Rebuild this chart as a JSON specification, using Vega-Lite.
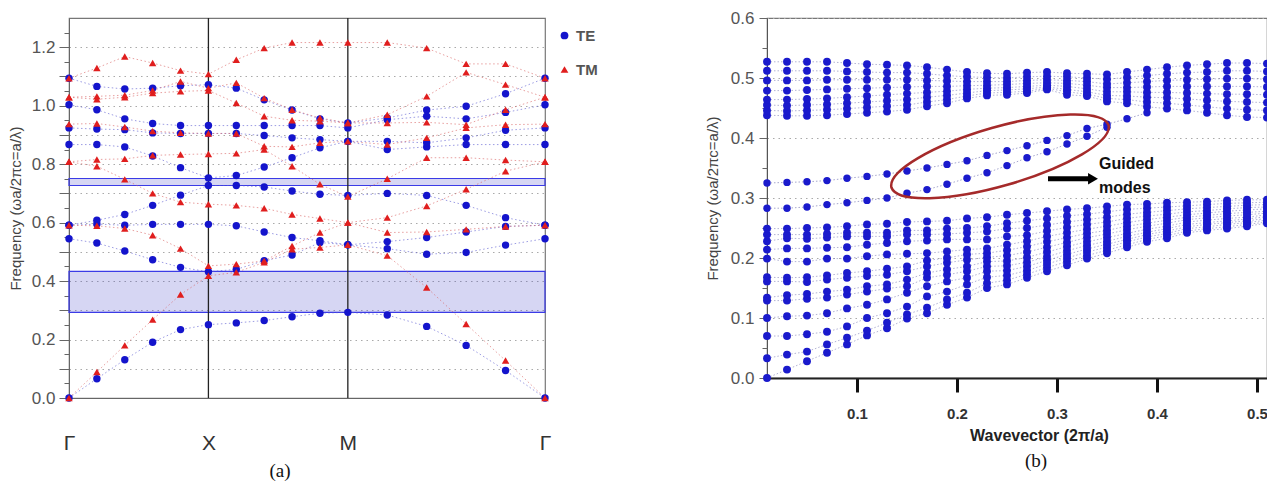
{
"$schema":"https://vega.github.io/schema/vega-lite/v6.json",
"background":"white",
"padding":{"left":7,"top":8,"right":0,"bottom":0},
"bounds":"flush",
"spacing":222,
"config":{"font":"Liberation Sans","view":{"stroke":"#777","strokeWidth":1.2}},
"datasets":{
"a":[
{"k":0,"f":0,"p":"TE"},{"k":0,"f":0.545,"p":"TE"},{"k":0,"f":0.591,"p":"TE"},{"k":0,"f":0.591,"p":"TE"},{"k":0,"f":0.867,"p":"TE"},{"k":0,"f":0.924,"p":"TE"},{"k":0,"f":1.003,"p":"TE"},{"k":0,"f":1.094,"p":"TE"},
{"k":0.1,"f":0.066,"p":"TE"},{"k":0.1,"f":0.53,"p":"TE"},{"k":0.1,"f":0.595,"p":"TE"},{"k":0.1,"f":0.608,"p":"TE"},{"k":0.1,"f":0.867,"p":"TE"},{"k":0.1,"f":0.92,"p":"TE"},{"k":0.1,"f":0.986,"p":"TE"},{"k":0.1,"f":1.066,"p":"TE"},
{"k":0.2,"f":0.131,"p":"TE"},{"k":0.2,"f":0.503,"p":"TE"},{"k":0.2,"f":0.591,"p":"TE"},{"k":0.2,"f":0.628,"p":"TE"},{"k":0.2,"f":0.859,"p":"TE"},{"k":0.2,"f":0.918,"p":"TE"},{"k":0.2,"f":0.955,"p":"TE"},{"k":0.2,"f":1.057,"p":"TE"},
{"k":0.3,"f":0.191,"p":"TE"},{"k":0.3,"f":0.473,"p":"TE"},{"k":0.3,"f":0.594,"p":"TE"},{"k":0.3,"f":0.659,"p":"TE"},{"k":0.3,"f":0.828,"p":"TE"},{"k":0.3,"f":0.907,"p":"TE"},{"k":0.3,"f":0.939,"p":"TE"},{"k":0.3,"f":1.06,"p":"TE"},
{"k":0.4,"f":0.234,"p":"TE"},{"k":0.4,"f":0.447,"p":"TE"},{"k":0.4,"f":0.594,"p":"TE"},{"k":0.4,"f":0.694,"p":"TE"},{"k":0.4,"f":0.788,"p":"TE"},{"k":0.4,"f":0.905,"p":"TE"},{"k":0.4,"f":0.932,"p":"TE"},{"k":0.4,"f":1.068,"p":"TE"},
{"k":0.5,"f":0.251,"p":"TE"},{"k":0.5,"f":0.432,"p":"TE"},{"k":0.5,"f":0.594,"p":"TE"},{"k":0.5,"f":0.727,"p":"TE"},{"k":0.5,"f":0.753,"p":"TE"},{"k":0.5,"f":0.905,"p":"TE"},{"k":0.5,"f":0.932,"p":"TE"},{"k":0.5,"f":1.072,"p":"TE"},
{"k":0.6,"f":0.257,"p":"TE"},{"k":0.6,"f":0.44,"p":"TE"},{"k":0.6,"f":0.589,"p":"TE"},{"k":0.6,"f":0.727,"p":"TE"},{"k":0.6,"f":0.761,"p":"TE"},{"k":0.6,"f":0.905,"p":"TE"},{"k":0.6,"f":0.932,"p":"TE"},{"k":0.6,"f":1.06,"p":"TE"},
{"k":0.7,"f":0.265,"p":"TE"},{"k":0.7,"f":0.47,"p":"TE"},{"k":0.7,"f":0.568,"p":"TE"},{"k":0.7,"f":0.722,"p":"TE"},{"k":0.7,"f":0.79,"p":"TE"},{"k":0.7,"f":0.898,"p":"TE"},{"k":0.7,"f":0.932,"p":"TE"},{"k":0.7,"f":1.02,"p":"TE"},
{"k":0.8,"f":0.278,"p":"TE"},{"k":0.8,"f":0.489,"p":"TE"},{"k":0.8,"f":0.549,"p":"TE"},{"k":0.8,"f":0.708,"p":"TE"},{"k":0.8,"f":0.822,"p":"TE"},{"k":0.8,"f":0.89,"p":"TE"},{"k":0.8,"f":0.932,"p":"TE"},{"k":0.8,"f":0.985,"p":"TE"},
{"k":0.9,"f":0.29,"p":"TE"},{"k":0.9,"f":0.532,"p":"TE"},{"k":0.9,"f":0.538,"p":"TE"},{"k":0.9,"f":0.697,"p":"TE"},{"k":0.9,"f":0.856,"p":"TE"},{"k":0.9,"f":0.884,"p":"TE"},{"k":0.9,"f":0.932,"p":"TE"},{"k":0.9,"f":0.955,"p":"TE"},
{"k":1,"f":0.293,"p":"TE"},{"k":1,"f":0.524,"p":"TE"},{"k":1,"f":0.524,"p":"TE"},{"k":1,"f":0.693,"p":"TE"},{"k":1,"f":0.878,"p":"TE"},{"k":1,"f":0.878,"p":"TE"},{"k":1,"f":0.924,"p":"TE"},{"k":1,"f":0.941,"p":"TE"},
{"k":1.1414,"f":0.284,"p":"TE"},{"k":1.1414,"f":0.511,"p":"TE"},{"k":1.1414,"f":0.535,"p":"TE"},{"k":1.1414,"f":0.7,"p":"TE"},{"k":1.1414,"f":0.85,"p":"TE"},{"k":1.1414,"f":0.878,"p":"TE"},{"k":1.1414,"f":0.952,"p":"TE"},{"k":1.1414,"f":0.958,"p":"TE"},
{"k":1.2828,"f":0.245,"p":"TE"},{"k":1.2828,"f":0.492,"p":"TE"},{"k":1.2828,"f":0.549,"p":"TE"},{"k":1.2828,"f":0.693,"p":"TE"},{"k":1.2828,"f":0.859,"p":"TE"},{"k":1.2828,"f":0.873,"p":"TE"},{"k":1.2828,"f":0.964,"p":"TE"},{"k":1.2828,"f":0.985,"p":"TE"},
{"k":1.4243,"f":0.18,"p":"TE"},{"k":1.4243,"f":0.498,"p":"TE"},{"k":1.4243,"f":0.568,"p":"TE"},{"k":1.4243,"f":0.659,"p":"TE"},{"k":1.4243,"f":0.867,"p":"TE"},{"k":1.4243,"f":0.89,"p":"TE"},{"k":1.4243,"f":0.955,"p":"TE"},{"k":1.4243,"f":0.998,"p":"TE"},
{"k":1.5657,"f":0.094,"p":"TE"},{"k":1.5657,"f":0.523,"p":"TE"},{"k":1.5657,"f":0.587,"p":"TE"},{"k":1.5657,"f":0.617,"p":"TE"},{"k":1.5657,"f":0.867,"p":"TE"},{"k":1.5657,"f":0.916,"p":"TE"},{"k":1.5657,"f":0.977,"p":"TE"},{"k":1.5657,"f":1.041,"p":"TE"},
{"k":1.7071,"f":0,"p":"TE"},{"k":1.7071,"f":0.545,"p":"TE"},{"k":1.7071,"f":0.591,"p":"TE"},{"k":1.7071,"f":0.591,"p":"TE"},{"k":1.7071,"f":0.867,"p":"TE"},{"k":1.7071,"f":0.924,"p":"TE"},{"k":1.7071,"f":1.003,"p":"TE"},{"k":1.7071,"f":1.094,"p":"TE"},
{"k":0,"f":0,"p":"TM"},{"k":0,"f":0.591,"p":"TM"},{"k":0,"f":0.808,"p":"TM"},{"k":0,"f":0.808,"p":"TM"},{"k":0,"f":0.937,"p":"TM"},{"k":0,"f":1.029,"p":"TM"},{"k":0,"f":1.029,"p":"TM"},{"k":0,"f":1.094,"p":"TM"},
{"k":0.1,"f":0.089,"p":"TM"},{"k":0.1,"f":0.589,"p":"TM"},{"k":0.1,"f":0.793,"p":"TM"},{"k":0.1,"f":0.816,"p":"TM"},{"k":0.1,"f":0.939,"p":"TM"},{"k":0.1,"f":1.022,"p":"TM"},{"k":0.1,"f":1.032,"p":"TM"},{"k":0.1,"f":1.129,"p":"TM"},
{"k":0.2,"f":0.18,"p":"TM"},{"k":0.2,"f":0.58,"p":"TM"},{"k":0.2,"f":0.748,"p":"TM"},{"k":0.2,"f":0.818,"p":"TM"},{"k":0.2,"f":0.927,"p":"TM"},{"k":0.2,"f":1.029,"p":"TM"},{"k":0.2,"f":1.036,"p":"TM"},{"k":0.2,"f":1.168,"p":"TM"},
{"k":0.3,"f":0.268,"p":"TM"},{"k":0.3,"f":0.557,"p":"TM"},{"k":0.3,"f":0.7,"p":"TM"},{"k":0.3,"f":0.83,"p":"TM"},{"k":0.3,"f":0.913,"p":"TM"},{"k":0.3,"f":1.043,"p":"TM"},{"k":0.3,"f":1.052,"p":"TM"},{"k":0.3,"f":1.146,"p":"TM"},
{"k":0.4,"f":0.354,"p":"TM"},{"k":0.4,"f":0.511,"p":"TM"},{"k":0.4,"f":0.67,"p":"TM"},{"k":0.4,"f":0.833,"p":"TM"},{"k":0.4,"f":0.907,"p":"TM"},{"k":0.4,"f":1.049,"p":"TM"},{"k":0.4,"f":1.083,"p":"TM"},{"k":0.4,"f":1.12,"p":"TM"},
{"k":0.5,"f":0.418,"p":"TM"},{"k":0.5,"f":0.452,"p":"TM"},{"k":0.5,"f":0.663,"p":"TM"},{"k":0.5,"f":0.835,"p":"TM"},{"k":0.5,"f":0.905,"p":"TM"},{"k":0.5,"f":1.052,"p":"TM"},{"k":0.5,"f":1.06,"p":"TM"},{"k":0.5,"f":1.108,"p":"TM"},
{"k":0.6,"f":0.43,"p":"TM"},{"k":0.6,"f":0.458,"p":"TM"},{"k":0.6,"f":0.659,"p":"TM"},{"k":0.6,"f":0.837,"p":"TM"},{"k":0.6,"f":0.905,"p":"TM"},{"k":0.6,"f":1.009,"p":"TM"},{"k":0.6,"f":1.078,"p":"TM"},{"k":0.6,"f":1.157,"p":"TM"},
{"k":0.7,"f":0.464,"p":"TM"},{"k":0.7,"f":0.469,"p":"TM"},{"k":0.7,"f":0.649,"p":"TM"},{"k":0.7,"f":0.85,"p":"TM"},{"k":0.7,"f":0.861,"p":"TM"},{"k":0.7,"f":0.964,"p":"TM"},{"k":0.7,"f":1.026,"p":"TM"},{"k":0.7,"f":1.197,"p":"TM"},
{"k":0.8,"f":0.509,"p":"TM"},{"k":0.8,"f":0.52,"p":"TM"},{"k":0.8,"f":0.628,"p":"TM"},{"k":0.8,"f":0.793,"p":"TM"},{"k":0.8,"f":0.859,"p":"TM"},{"k":0.8,"f":0.95,"p":"TM"},{"k":0.8,"f":0.986,"p":"TM"},{"k":0.8,"f":1.216,"p":"TM"},
{"k":0.9,"f":0.515,"p":"TM"},{"k":0.9,"f":0.566,"p":"TM"},{"k":0.9,"f":0.614,"p":"TM"},{"k":0.9,"f":0.731,"p":"TM"},{"k":0.9,"f":0.873,"p":"TM"},{"k":0.9,"f":0.947,"p":"TM"},{"k":0.9,"f":0.958,"p":"TM"},{"k":0.9,"f":1.216,"p":"TM"},
{"k":1,"f":0.524,"p":"TM"},{"k":1,"f":0.6,"p":"TM"},{"k":1,"f":0.6,"p":"TM"},{"k":1,"f":0.689,"p":"TM"},{"k":1,"f":0.878,"p":"TM"},{"k":1,"f":0.941,"p":"TM"},{"k":1,"f":0.941,"p":"TM"},{"k":1,"f":1.216,"p":"TM"},
{"k":1.1414,"f":0.487,"p":"TM"},{"k":1.1414,"f":0.566,"p":"TM"},{"k":1.1414,"f":0.617,"p":"TM"},{"k":1.1414,"f":0.75,"p":"TM"},{"k":1.1414,"f":0.867,"p":"TM"},{"k":1.1414,"f":0.941,"p":"TM"},{"k":1.1414,"f":0.969,"p":"TM"},{"k":1.1414,"f":1.216,"p":"TM"},
{"k":1.2828,"f":0.378,"p":"TM"},{"k":1.2828,"f":0.568,"p":"TM"},{"k":1.2828,"f":0.657,"p":"TM"},{"k":1.2828,"f":0.822,"p":"TM"},{"k":1.2828,"f":0.89,"p":"TM"},{"k":1.2828,"f":0.943,"p":"TM"},{"k":1.2828,"f":1.032,"p":"TM"},{"k":1.2828,"f":1.197,"p":"TM"},
{"k":1.4243,"f":0.253,"p":"TM"},{"k":1.4243,"f":0.577,"p":"TM"},{"k":1.4243,"f":0.714,"p":"TM"},{"k":1.4243,"f":0.822,"p":"TM"},{"k":1.4243,"f":0.924,"p":"TM"},{"k":1.4243,"f":0.935,"p":"TM"},{"k":1.4243,"f":1.114,"p":"TM"},{"k":1.4243,"f":1.143,"p":"TM"},
{"k":1.5657,"f":0.128,"p":"TM"},{"k":1.5657,"f":0.587,"p":"TM"},{"k":1.5657,"f":0.776,"p":"TM"},{"k":1.5657,"f":0.814,"p":"TM"},{"k":1.5657,"f":0.935,"p":"TM"},{"k":1.5657,"f":0.986,"p":"TM"},{"k":1.5657,"f":1.072,"p":"TM"},{"k":1.5657,"f":1.143,"p":"TM"},
{"k":1.7071,"f":0,"p":"TM"},{"k":1.7071,"f":0.591,"p":"TM"},{"k":1.7071,"f":0.808,"p":"TM"},{"k":1.7071,"f":0.808,"p":"TM"},{"k":1.7071,"f":0.937,"p":"TM"},{"k":1.7071,"f":1.029,"p":"TM"},{"k":1.7071,"f":1.029,"p":"TM"},{"k":1.7071,"f":1.094,"p":"TM"}
],
"r":[
{"k":0.01,"f":0},{"k":0.01,"f":0.033},{"k":0.01,"f":0.07},{"k":0.01,"f":0.1},{"k":0.01,"f":0.129},{"k":0.01,"f":0.134},{"k":0.01,"f":0.161},{"k":0.01,"f":0.168},{"k":0.01,"f":0.199},{"k":0.01,"f":0.214},{"k":0.01,"f":0.228},{"k":0.01,"f":0.239},{"k":0.01,"f":0.249},{"k":0.01,"f":0.438},{"k":0.01,"f":0.446},{"k":0.01,"f":0.455},{"k":0.01,"f":0.464},{"k":0.01,"f":0.479},{"k":0.01,"f":0.496},{"k":0.01,"f":0.512},{"k":0.01,"f":0.527},
{"k":0.03,"f":0.014},{"k":0.03,"f":0.039},{"k":0.03,"f":0.07},{"k":0.03,"f":0.103},{"k":0.03,"f":0.129},{"k":0.03,"f":0.138},{"k":0.03,"f":0.161},{"k":0.03,"f":0.167},{"k":0.03,"f":0.194},{"k":0.03,"f":0.216},{"k":0.03,"f":0.233},{"k":0.03,"f":0.239},{"k":0.03,"f":0.249},{"k":0.03,"f":0.437},{"k":0.03,"f":0.445},{"k":0.03,"f":0.454},{"k":0.03,"f":0.464},{"k":0.03,"f":0.479},{"k":0.03,"f":0.496},{"k":0.03,"f":0.512},{"k":0.03,"f":0.527},
{"k":0.05,"f":0.028},{"k":0.05,"f":0.044},{"k":0.05,"f":0.073},{"k":0.05,"f":0.104},{"k":0.05,"f":0.132},{"k":0.05,"f":0.14},{"k":0.05,"f":0.16},{"k":0.05,"f":0.168},{"k":0.05,"f":0.194},{"k":0.05,"f":0.216},{"k":0.05,"f":0.232},{"k":0.05,"f":0.239},{"k":0.05,"f":0.25},{"k":0.05,"f":0.437},{"k":0.05,"f":0.446},{"k":0.05,"f":0.455},{"k":0.05,"f":0.465},{"k":0.05,"f":0.48},{"k":0.05,"f":0.496},{"k":0.05,"f":0.512},{"k":0.05,"f":0.527},
{"k":0.07,"f":0.042},{"k":0.07,"f":0.056},{"k":0.07,"f":0.077},{"k":0.07,"f":0.108},{"k":0.07,"f":0.134},{"k":0.07,"f":0.144},{"k":0.07,"f":0.164},{"k":0.07,"f":0.171},{"k":0.07,"f":0.199},{"k":0.07,"f":0.217},{"k":0.07,"f":0.234},{"k":0.07,"f":0.24},{"k":0.07,"f":0.251},{"k":0.07,"f":0.438},{"k":0.07,"f":0.447},{"k":0.07,"f":0.456},{"k":0.07,"f":0.466},{"k":0.07,"f":0.481},{"k":0.07,"f":0.497},{"k":0.07,"f":0.512},{"k":0.07,"f":0.527},
{"k":0.09,"f":0.056},{"k":0.09,"f":0.067},{"k":0.09,"f":0.086},{"k":0.09,"f":0.116},{"k":0.09,"f":0.139},{"k":0.09,"f":0.147},{"k":0.09,"f":0.167},{"k":0.09,"f":0.175},{"k":0.09,"f":0.199},{"k":0.09,"f":0.218},{"k":0.09,"f":0.236},{"k":0.09,"f":0.242},{"k":0.09,"f":0.253},{"k":0.09,"f":0.44},{"k":0.09,"f":0.449},{"k":0.09,"f":0.458},{"k":0.09,"f":0.468},{"k":0.09,"f":0.482},{"k":0.09,"f":0.497},{"k":0.09,"f":0.511},{"k":0.09,"f":0.525},
{"k":0.11,"f":0.071},{"k":0.11,"f":0.079},{"k":0.11,"f":0.1},{"k":0.11,"f":0.122},{"k":0.11,"f":0.144},{"k":0.11,"f":0.153},{"k":0.11,"f":0.17},{"k":0.11,"f":0.178},{"k":0.11,"f":0.203},{"k":0.11,"f":0.222},{"k":0.11,"f":0.236},{"k":0.11,"f":0.242},{"k":0.11,"f":0.256},{"k":0.11,"f":0.442},{"k":0.11,"f":0.451},{"k":0.11,"f":0.46},{"k":0.11,"f":0.47},{"k":0.11,"f":0.483},{"k":0.11,"f":0.497},{"k":0.11,"f":0.51},{"k":0.11,"f":0.523},
{"k":0.13,"f":0.083},{"k":0.13,"f":0.092},{"k":0.13,"f":0.108},{"k":0.13,"f":0.131},{"k":0.13,"f":0.149},{"k":0.13,"f":0.156},{"k":0.13,"f":0.172},{"k":0.13,"f":0.182},{"k":0.13,"f":0.206},{"k":0.13,"f":0.225},{"k":0.13,"f":0.236},{"k":0.13,"f":0.242},{"k":0.13,"f":0.257},{"k":0.13,"f":0.444},{"k":0.13,"f":0.453},{"k":0.13,"f":0.462},{"k":0.13,"f":0.472},{"k":0.13,"f":0.484},{"k":0.13,"f":0.497},{"k":0.13,"f":0.509},{"k":0.13,"f":0.522},
{"k":0.15,"f":0.099},{"k":0.15,"f":0.106},{"k":0.15,"f":0.119},{"k":0.15,"f":0.142},{"k":0.15,"f":0.153},{"k":0.15,"f":0.164},{"k":0.15,"f":0.178},{"k":0.15,"f":0.186},{"k":0.15,"f":0.207},{"k":0.15,"f":0.228},{"k":0.15,"f":0.239},{"k":0.15,"f":0.246},{"k":0.15,"f":0.26},{"k":0.15,"f":0.447},{"k":0.15,"f":0.455},{"k":0.15,"f":0.464},{"k":0.15,"f":0.474},{"k":0.15,"f":0.485},{"k":0.15,"f":0.497},{"k":0.15,"f":0.509},{"k":0.15,"f":0.521},
{"k":0.17,"f":0.108},{"k":0.17,"f":0.117},{"k":0.17,"f":0.136},{"k":0.17,"f":0.153},{"k":0.17,"f":0.167},{"k":0.17,"f":0.175},{"k":0.17,"f":0.186},{"k":0.17,"f":0.196},{"k":0.17,"f":0.208},{"k":0.17,"f":0.229},{"k":0.17,"f":0.239},{"k":0.17,"f":0.246},{"k":0.17,"f":0.261},{"k":0.17,"f":0.453},{"k":0.17,"f":0.46},{"k":0.17,"f":0.468},{"k":0.17,"f":0.476},{"k":0.17,"f":0.486},{"k":0.17,"f":0.496},{"k":0.17,"f":0.507},{"k":0.17,"f":0.518},
{"k":0.19,"f":0.122},{"k":0.19,"f":0.131},{"k":0.19,"f":0.144},{"k":0.19,"f":0.161},{"k":0.19,"f":0.172},{"k":0.19,"f":0.181},{"k":0.19,"f":0.192},{"k":0.19,"f":0.2},{"k":0.19,"f":0.211},{"k":0.19,"f":0.231},{"k":0.19,"f":0.24},{"k":0.19,"f":0.249},{"k":0.19,"f":0.262},{"k":0.19,"f":0.458},{"k":0.19,"f":0.464},{"k":0.19,"f":0.471},{"k":0.19,"f":0.478},{"k":0.19,"f":0.486},{"k":0.19,"f":0.495},{"k":0.19,"f":0.504},{"k":0.19,"f":0.514},
{"k":0.21,"f":0.134},{"k":0.21,"f":0.142},{"k":0.21,"f":0.156},{"k":0.21,"f":0.167},{"k":0.21,"f":0.178},{"k":0.21,"f":0.186},{"k":0.21,"f":0.197},{"k":0.21,"f":0.206},{"k":0.21,"f":0.214},{"k":0.21,"f":0.231},{"k":0.21,"f":0.242},{"k":0.21,"f":0.25},{"k":0.21,"f":0.266},{"k":0.21,"f":0.466},{"k":0.21,"f":0.47},{"k":0.21,"f":0.475},{"k":0.21,"f":0.481},{"k":0.21,"f":0.487},{"k":0.21,"f":0.494},{"k":0.21,"f":0.502},{"k":0.21,"f":0.51},
{"k":0.23,"f":0.15},{"k":0.23,"f":0.158},{"k":0.23,"f":0.168},{"k":0.23,"f":0.178},{"k":0.23,"f":0.186},{"k":0.23,"f":0.194},{"k":0.23,"f":0.201},{"k":0.23,"f":0.208},{"k":0.23,"f":0.216},{"k":0.23,"f":0.231},{"k":0.23,"f":0.244},{"k":0.23,"f":0.253},{"k":0.23,"f":0.268},{"k":0.23,"f":0.471},{"k":0.23,"f":0.475},{"k":0.23,"f":0.479},{"k":0.23,"f":0.483},{"k":0.23,"f":0.488},{"k":0.23,"f":0.494},{"k":0.23,"f":0.501},{"k":0.23,"f":0.508},
{"k":0.25,"f":0.156},{"k":0.25,"f":0.163},{"k":0.25,"f":0.171},{"k":0.25,"f":0.179},{"k":0.25,"f":0.187},{"k":0.25,"f":0.195},{"k":0.25,"f":0.204},{"k":0.25,"f":0.213},{"k":0.25,"f":0.222},{"k":0.25,"f":0.236},{"k":0.25,"f":0.249},{"k":0.25,"f":0.258},{"k":0.25,"f":0.272},{"k":0.25,"f":0.472},{"k":0.25,"f":0.476},{"k":0.25,"f":0.48},{"k":0.25,"f":0.484},{"k":0.25,"f":0.489},{"k":0.25,"f":0.494},{"k":0.25,"f":0.5},{"k":0.25,"f":0.507},
{"k":0.27,"f":0.167},{"k":0.27,"f":0.173},{"k":0.27,"f":0.179},{"k":0.27,"f":0.186},{"k":0.27,"f":0.193},{"k":0.27,"f":0.201},{"k":0.27,"f":0.21},{"k":0.27,"f":0.219},{"k":0.27,"f":0.228},{"k":0.27,"f":0.238},{"k":0.27,"f":0.25},{"k":0.27,"f":0.262},{"k":0.27,"f":0.275},{"k":0.27,"f":0.475},{"k":0.27,"f":0.478},{"k":0.27,"f":0.482},{"k":0.27,"f":0.486},{"k":0.27,"f":0.491},{"k":0.27,"f":0.496},{"k":0.27,"f":0.502},{"k":0.27,"f":0.509},
{"k":0.29,"f":0.178},{"k":0.29,"f":0.184},{"k":0.29,"f":0.19},{"k":0.29,"f":0.196},{"k":0.29,"f":0.202},{"k":0.29,"f":0.21},{"k":0.29,"f":0.218},{"k":0.29,"f":0.227},{"k":0.29,"f":0.236},{"k":0.29,"f":0.245},{"k":0.29,"f":0.255},{"k":0.29,"f":0.266},{"k":0.29,"f":0.278},{"k":0.29,"f":0.481},{"k":0.29,"f":0.483},{"k":0.29,"f":0.485},{"k":0.29,"f":0.488},{"k":0.29,"f":0.492},{"k":0.29,"f":0.497},{"k":0.29,"f":0.503},{"k":0.29,"f":0.51},
{"k":0.31,"f":0.188},{"k":0.31,"f":0.194},{"k":0.31,"f":0.2},{"k":0.31,"f":0.206},{"k":0.31,"f":0.212},{"k":0.31,"f":0.219},{"k":0.31,"f":0.226},{"k":0.31,"f":0.234},{"k":0.31,"f":0.242},{"k":0.31,"f":0.251},{"k":0.31,"f":0.26},{"k":0.31,"f":0.27},{"k":0.31,"f":0.281},{"k":0.31,"f":0.472},{"k":0.31,"f":0.477},{"k":0.31,"f":0.481},{"k":0.31,"f":0.486},{"k":0.31,"f":0.491},{"k":0.31,"f":0.496},{"k":0.31,"f":0.502},{"k":0.31,"f":0.508},
{"k":0.33,"f":0.199},{"k":0.33,"f":0.204},{"k":0.33,"f":0.21},{"k":0.33,"f":0.215},{"k":0.33,"f":0.221},{"k":0.33,"f":0.227},{"k":0.33,"f":0.234},{"k":0.33,"f":0.241},{"k":0.33,"f":0.248},{"k":0.33,"f":0.256},{"k":0.33,"f":0.264},{"k":0.33,"f":0.273},{"k":0.33,"f":0.283},{"k":0.33,"f":0.47},{"k":0.33,"f":0.473},{"k":0.33,"f":0.477},{"k":0.33,"f":0.482},{"k":0.33,"f":0.488},{"k":0.33,"f":0.494},{"k":0.33,"f":0.5},{"k":0.33,"f":0.507},
{"k":0.35,"f":0.208},{"k":0.35,"f":0.213},{"k":0.35,"f":0.218},{"k":0.35,"f":0.223},{"k":0.35,"f":0.228},{"k":0.35,"f":0.234},{"k":0.35,"f":0.24},{"k":0.35,"f":0.246},{"k":0.35,"f":0.253},{"k":0.35,"f":0.26},{"k":0.35,"f":0.268},{"k":0.35,"f":0.277},{"k":0.35,"f":0.286},{"k":0.35,"f":0.461},{"k":0.35,"f":0.466},{"k":0.35,"f":0.471},{"k":0.35,"f":0.477},{"k":0.35,"f":0.484},{"k":0.35,"f":0.49},{"k":0.35,"f":0.498},{"k":0.35,"f":0.506},
{"k":0.37,"f":0.218},{"k":0.37,"f":0.222},{"k":0.37,"f":0.227},{"k":0.37,"f":0.231},{"k":0.37,"f":0.236},{"k":0.37,"f":0.241},{"k":0.37,"f":0.247},{"k":0.37,"f":0.253},{"k":0.37,"f":0.259},{"k":0.37,"f":0.266},{"k":0.37,"f":0.273},{"k":0.37,"f":0.281},{"k":0.37,"f":0.289},{"k":0.37,"f":0.458},{"k":0.37,"f":0.464},{"k":0.37,"f":0.47},{"k":0.37,"f":0.477},{"k":0.37,"f":0.484},{"k":0.37,"f":0.492},{"k":0.37,"f":0.501},{"k":0.37,"f":0.51},
{"k":0.39,"f":0.227},{"k":0.39,"f":0.231},{"k":0.39,"f":0.235},{"k":0.39,"f":0.239},{"k":0.39,"f":0.243},{"k":0.39,"f":0.248},{"k":0.39,"f":0.253},{"k":0.39,"f":0.258},{"k":0.39,"f":0.264},{"k":0.39,"f":0.27},{"k":0.39,"f":0.276},{"k":0.39,"f":0.283},{"k":0.39,"f":0.29},{"k":0.39,"f":0.452},{"k":0.39,"f":0.46},{"k":0.39,"f":0.468},{"k":0.39,"f":0.476},{"k":0.39,"f":0.485},{"k":0.39,"f":0.494},{"k":0.39,"f":0.504},{"k":0.39,"f":0.514},
{"k":0.41,"f":0.233},{"k":0.41,"f":0.237},{"k":0.41,"f":0.241},{"k":0.41,"f":0.245},{"k":0.41,"f":0.249},{"k":0.41,"f":0.253},{"k":0.41,"f":0.258},{"k":0.41,"f":0.263},{"k":0.41,"f":0.268},{"k":0.41,"f":0.273},{"k":0.41,"f":0.279},{"k":0.41,"f":0.285},{"k":0.41,"f":0.292},{"k":0.41,"f":0.449},{"k":0.41,"f":0.458},{"k":0.41,"f":0.467},{"k":0.41,"f":0.476},{"k":0.41,"f":0.486},{"k":0.41,"f":0.496},{"k":0.41,"f":0.507},{"k":0.41,"f":0.518},
{"k":0.43,"f":0.242},{"k":0.43,"f":0.245},{"k":0.43,"f":0.249},{"k":0.43,"f":0.252},{"k":0.43,"f":0.256},{"k":0.43,"f":0.26},{"k":0.43,"f":0.264},{"k":0.43,"f":0.268},{"k":0.43,"f":0.272},{"k":0.43,"f":0.277},{"k":0.43,"f":0.282},{"k":0.43,"f":0.287},{"k":0.43,"f":0.293},{"k":0.43,"f":0.446},{"k":0.43,"f":0.455},{"k":0.43,"f":0.465},{"k":0.43,"f":0.475},{"k":0.43,"f":0.486},{"k":0.43,"f":0.497},{"k":0.43,"f":0.509},{"k":0.43,"f":0.521},
{"k":0.45,"f":0.246},{"k":0.45,"f":0.249},{"k":0.45,"f":0.252},{"k":0.45,"f":0.256},{"k":0.45,"f":0.259},{"k":0.45,"f":0.263},{"k":0.45,"f":0.267},{"k":0.45,"f":0.271},{"k":0.45,"f":0.275},{"k":0.45,"f":0.279},{"k":0.45,"f":0.284},{"k":0.45,"f":0.289},{"k":0.45,"f":0.294},{"k":0.45,"f":0.442},{"k":0.45,"f":0.452},{"k":0.45,"f":0.463},{"k":0.45,"f":0.474},{"k":0.45,"f":0.486},{"k":0.45,"f":0.498},{"k":0.45,"f":0.51},{"k":0.45,"f":0.523},
{"k":0.47,"f":0.249},{"k":0.47,"f":0.252},{"k":0.47,"f":0.256},{"k":0.47,"f":0.259},{"k":0.47,"f":0.262},{"k":0.47,"f":0.266},{"k":0.47,"f":0.27},{"k":0.47,"f":0.274},{"k":0.47,"f":0.278},{"k":0.47,"f":0.282},{"k":0.47,"f":0.286},{"k":0.47,"f":0.291},{"k":0.47,"f":0.296},{"k":0.47,"f":0.438},{"k":0.47,"f":0.449},{"k":0.47,"f":0.461},{"k":0.47,"f":0.473},{"k":0.47,"f":0.486},{"k":0.47,"f":0.499},{"k":0.47,"f":0.512},{"k":0.47,"f":0.525},
{"k":0.49,"f":0.253},{"k":0.49,"f":0.256},{"k":0.49,"f":0.259},{"k":0.49,"f":0.262},{"k":0.49,"f":0.265},{"k":0.49,"f":0.268},{"k":0.49,"f":0.272},{"k":0.49,"f":0.276},{"k":0.49,"f":0.28},{"k":0.49,"f":0.284},{"k":0.49,"f":0.288},{"k":0.49,"f":0.292},{"k":0.49,"f":0.297},{"k":0.49,"f":0.435},{"k":0.49,"f":0.447},{"k":0.49,"f":0.46},{"k":0.49,"f":0.473},{"k":0.49,"f":0.486},{"k":0.49,"f":0.499},{"k":0.49,"f":0.512},{"k":0.49,"f":0.525},
{"k":0.51,"f":0.258},{"k":0.51,"f":0.26},{"k":0.51,"f":0.263},{"k":0.51,"f":0.266},{"k":0.51,"f":0.269},{"k":0.51,"f":0.272},{"k":0.51,"f":0.275},{"k":0.51,"f":0.278},{"k":0.51,"f":0.282},{"k":0.51,"f":0.285},{"k":0.51,"f":0.289},{"k":0.51,"f":0.293},{"k":0.51,"f":0.297},{"k":0.51,"f":0.434},{"k":0.51,"f":0.446},{"k":0.51,"f":0.459},{"k":0.51,"f":0.472},{"k":0.51,"f":0.485},{"k":0.51,"f":0.498},{"k":0.51,"f":0.511},{"k":0.51,"f":0.524}
],
"g":[
{"k":0.01,"f":0.283,"b":1},{"k":0.03,"f":0.283,"b":1},{"k":0.05,"f":0.285,"b":1},{"k":0.07,"f":0.289,"b":1},{"k":0.09,"f":0.292,"b":1},{"k":0.11,"f":0.296,"b":1},{"k":0.13,"f":0.3,"b":1},{"k":0.15,"f":0.308,"b":1},{"k":0.17,"f":0.314,"b":1},{"k":0.19,"f":0.323,"b":1},{"k":0.21,"f":0.333,"b":1},{"k":0.23,"f":0.342,"b":1},{"k":0.25,"f":0.354,"b":1},{"k":0.27,"f":0.367,"b":1},{"k":0.29,"f":0.377,"b":1},{"k":0.31,"f":0.39,"b":1},{"k":0.33,"f":0.403,"b":1},{"k":0.35,"f":0.418,"b":1},
{"k":0.01,"f":0.325,"b":2},{"k":0.03,"f":0.326,"b":2},{"k":0.05,"f":0.327,"b":2},{"k":0.07,"f":0.329,"b":2},{"k":0.09,"f":0.333,"b":2},{"k":0.11,"f":0.336,"b":2},{"k":0.13,"f":0.34,"b":2},{"k":0.15,"f":0.345,"b":2},{"k":0.17,"f":0.35,"b":2},{"k":0.19,"f":0.356,"b":2},{"k":0.21,"f":0.362,"b":2},{"k":0.23,"f":0.371,"b":2},{"k":0.25,"f":0.379,"b":2},{"k":0.27,"f":0.387,"b":2},{"k":0.29,"f":0.396,"b":2},{"k":0.31,"f":0.404,"b":2},{"k":0.33,"f":0.416,"b":2},{"k":0.35,"f":0.423,"b":2},{"k":0.37,"f":0.432,"b":2},{"k":0.39,"f":0.442,"b":2}
]
},
"hconcat":[
{
"width":476,"height":380,
"title":{"text":"(a)","orient":"bottom","font":"Liberation Serif","fontSize":19,"fontWeight":"normal","color":"#111","dx":-27,"offset":9},
"resolve":{"axis":{"y":"independent"}},
"layer":[
{"data":{"values":[{}]},"mark":{"type":"rect","fill":"#3434c4","fillOpacity":0.2,"stroke":"#3b3be6","strokeWidth":1.2},"encoding":{"y":{"datum":0.293,"type":"quantitative","scale":{"domain":[0,1.3],"nice":false},"axis":null},"y2":{"datum":0.433}}},
{"data":{"values":[{}]},"mark":{"type":"rect","fill":"#3434c4","fillOpacity":0.2,"stroke":"#3b3be6","strokeWidth":1.2},"encoding":{"y":{"datum":0.727,"type":"quantitative","axis":null},"y2":{"datum":0.751}}},
{"data":{"values":[{}]},"mark":{"type":"rule","color":"#222","strokeWidth":1.3},"encoding":{"x":{"datum":0.5,"type":"quantitative","scale":{"domain":[0,1.7071],"nice":false,"zero":false}}}},
{"data":{"values":[{}]},"mark":{"type":"rule","color":"#222","strokeWidth":1.3},"encoding":{"x":{"datum":1,"type":"quantitative"}}},
{"data":{"name":"a"},"transform":[{"filter":"datum.p=='TE'"},{"window":[{"op":"row_number","as":"b"}],"groupby":["k"],"sort":[{"field":"f"}]}],"mark":{"type":"line","color":"#5a5ad0","strokeWidth":1,"strokeDash":[1.5,2.5],"opacity":0.6},"encoding":{"x":{"field":"k","type":"quantitative"},"y":{"field":"f","type":"quantitative","axis":null},"detail":{"field":"b","type":"nominal"}}},
{"data":{"name":"a"},"transform":[{"filter":"datum.p=='TM'"},{"window":[{"op":"row_number","as":"b"}],"groupby":["k"],"sort":[{"field":"f"}]}],"mark":{"type":"line","color":"#d86060","strokeWidth":1,"strokeDash":[1.5,2.5],"opacity":0.6},"encoding":{"x":{"field":"k","type":"quantitative"},"y":{"field":"f","type":"quantitative","axis":null},"detail":{"field":"b","type":"nominal"}}},
{"data":{"name":"a"},"mark":{"type":"point","filled":true,"size":55,"opacity":1},
"encoding":{
"x":{"field":"k","type":"quantitative","scale":{"domain":[0,1.7071],"nice":false,"zero":false},"axis":{"values":[0,0.5,1,1.7071],"labelExpr":"datum.value < 0.25 || datum.value > 1.5 ? 'Γ' : (datum.value < 0.75 ? 'X' : 'M')","ticks":false,"grid":false,"domainColor":"#666","labelFontSize":21,"labelColor":"#333","labelPadding":34,"labelFlush":false,"labelOverlap":false,"title":null}},
"y":{"field":"f","type":"quantitative","scale":{"domain":[0,1.3],"nice":false},"axis":{"values":[0,0.1,0.2,0.3,0.4,0.5,0.6,0.7,0.8,0.9,1,1.1,1.2],"labelExpr":"round(datum.value*10) % 2 == 0 ? format(datum.value, '.1f') : ''","grid":true,"gridDash":[1.5,4],"gridColor":"#aaa","gridWidth":1.2,"tickSize":10,"tickColor":"#666","domainColor":"#666","labelFontSize":17,"labelColor":"#555","labelPadding":4,"title":"Frequency (ωa/2πc=a/λ)","titleFontSize":15,"titleFontWeight":"normal","titleColor":"#444","titlePadding":8}},
"color":{"field":"p","type":"nominal","scale":{"domain":["TE","TM"],"range":["#1414cc","#e01e1e"]},"legend":{"orient":"none","legendX":488,"legendY":10,"title":null,"labelFontSize":15,"labelFontWeight":"bold","labelColor":"#555","symbolSize":60,"rowPadding":18}},
"shape":{"field":"p","type":"nominal","scale":{"domain":["TE","TM"],"range":["circle","triangle-up"]},"legend":{"orient":"none","legendX":488,"legendY":10,"title":null,"labelFontSize":15,"labelFontWeight":"bold","labelColor":"#555","symbolSize":60,"rowPadding":18}}
}},
{"data":{"values":[{}]},"mark":{"type":"rule","opacity":0},"encoding":{"y":{"datum":0,"type":"quantitative","axis":{"orient":"left","values":[0.05,0.15,0.25,0.35,0.45,0.55,0.65,0.75,0.85,0.95,1.05,1.15,1.25],"labels":false,"domain":false,"grid":false,"tickSize":5,"tickColor":"#666","title":null}}}}
]
},
{
"width":500,"height":360,
"title":{"text":"(b)","orient":"bottom","font":"Liberation Serif","fontSize":19,"fontWeight":"normal","color":"#111","dx":19,"offset":9},
"resolve":{"axis":{"y":"independent"}},
"layer":[
{"data":{"name":"r"},"transform":[{"filter":"datum.f < 0.36"},{"window":[{"op":"row_number","as":"b"}],"groupby":["k"],"sort":[{"field":"f"}]}],"mark":{"type":"line","color":"#8080b8","strokeWidth":1,"strokeDash":[1.5,2],"opacity":0.6},"encoding":{"x":{"field":"k","type":"quantitative","scale":{"domain":[0.01,0.51],"nice":false,"zero":false}},"y":{"field":"f","type":"quantitative","scale":{"domain":[0,0.6],"nice":false},"axis":null},"detail":{"field":"b","type":"nominal"}}},
{"data":{"name":"r"},"transform":[{"filter":"datum.f > 0.36"},{"window":[{"op":"row_number","as":"b"}],"groupby":["k"],"sort":[{"field":"f"}]}],"mark":{"type":"line","color":"#8080b8","strokeWidth":1,"strokeDash":[1.5,2],"opacity":0.6},"encoding":{"x":{"field":"k","type":"quantitative"},"y":{"field":"f","type":"quantitative","axis":null},"detail":{"field":"b","type":"nominal"}}},
{"data":{"name":"g"},"mark":{"type":"line","color":"#8080b8","strokeWidth":1,"strokeDash":[1.5,2],"opacity":0.7},"encoding":{"x":{"field":"k","type":"quantitative"},"y":{"field":"f","type":"quantitative","axis":null},"detail":{"field":"b","type":"nominal"}}},
{"data":{"name":"r"},"mark":{"type":"point","filled":true,"size":62,"color":"#1a1acc","opacity":1},
"encoding":{
"x":{"field":"k","type":"quantitative","scale":{"domain":[0.01,0.51],"nice":false,"zero":false},"axis":{"values":[0.1,0.2,0.3,0.4,0.5],"format":".1f","tickSize":14,"tickWidth":3,"tickColor":"#111","domainColor":"#222","domainWidth":2,"labelFontSize":15,"labelFontWeight":"bold","labelColor":"#333","labelPadding":14,"labelFlush":false,"grid":false,"title":"Wavevector (2π/a)","titleFontSize":16,"titleFontWeight":"bold","titleColor":"#222","titleX":272,"titlePadding":6}},
"y":{"field":"f","type":"quantitative","scale":{"domain":[0,0.6],"nice":false},"axis":{"values":[0,0.1,0.2,0.3,0.4,0.5,0.6],"format":".1f","grid":true,"gridDash":[1.5,4],"gridColor":"#aaa","gridWidth":1.2,"tickSize":8,"tickColor":"#666","domainColor":"#555","labelFontSize":17,"labelColor":"#555","labelPadding":5,"title":"Frequency (ωa/2πc=a/λ)","titleFontSize":15,"titleFontWeight":"normal","titleColor":"#444","titlePadding":10}}
}},
{"data":{"name":"g"},"mark":{"type":"point","filled":true,"size":55,"color":"#1a1acc","opacity":1},"encoding":{"x":{"field":"k","type":"quantitative"},"y":{"field":"f","type":"quantitative","axis":null}}},
{"data":{"values":[{}]},"mark":{"type":"point","shape":"M -0.961 0.276 A 1 0.265 -16 0 1 0.961 -0.276 A 1 0.265 -16 0 1 -0.961 0.276 Z","size":51076,"filled":false,"stroke":"#a52a2a","strokeWidth":2.5,"opacity":1},"encoding":{"x":{"datum":0.243,"type":"quantitative"},"y":{"datum":0.3695,"type":"quantitative","axis":null}}},
{"data":{"values":[{}]},"mark":{"type":"rule","color":"#000","strokeWidth":5},"encoding":{"x":{"datum":0.291,"type":"quantitative"},"x2":{"datum":0.332},"y":{"datum":0.332,"type":"quantitative","axis":null}}},
{"data":{"values":[{}]},"mark":{"type":"point","shape":"triangle-right","filled":true,"color":"#000","size":130,"opacity":1},"encoding":{"x":{"datum":0.336,"type":"quantitative"},"y":{"datum":0.332,"type":"quantitative","axis":null}}},
{"data":{"values":[{}]},"mark":{"type":"text","text":["Guided","modes"],"align":"left","baseline":"middle","lineHeight":24,"fontSize":16,"fontWeight":"bold","color":"#111"},"encoding":{"x":{"datum":0.342,"type":"quantitative"},"y":{"datum":0.356,"type":"quantitative","axis":null}}},
{"data":{"values":[{}]},"mark":{"type":"rule","opacity":0},"encoding":{"y":{"datum":0,"type":"quantitative","axis":{"orient":"left","values":[0.05,0.15,0.25,0.35,0.45,0.55],"labels":false,"domain":false,"grid":false,"tickSize":5,"tickColor":"#666","title":null}}}}
]
}
]
}
